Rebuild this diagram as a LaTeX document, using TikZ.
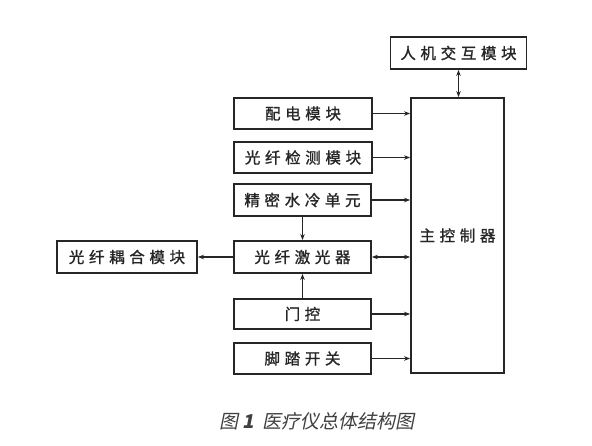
\documentclass[tikz,border=0pt]{standalone}
\usepackage{fontspec}
\setmainfont{Noto Sans CJK SC}
\newfontfamily\boxfont[LetterSpace=30,FakeBold=1.2]{Noto Sans CJK SC}
\newfontfamily\capfont[FakeSlant=0.2]{Noto Sans CJK SC}
\usetikzlibrary{arrows.meta}
\begin{document}
\begin{tikzpicture}[x=1pt,y=-1pt,
  blk/.style={draw=black!85, line width=1.8pt, rectangle, inner sep=0pt,
     font=\boxfont\fontsize{15.5}{15.5}\selectfont, text=black!85},
  arr/.style={draw=black!85, line width=1.3pt, -{Stealth[length=6pt,width=4.5pt]}},
  darr/.style={draw=black!85, line width=1.3pt, {Stealth[length=6pt,width=4.5pt]}-{Stealth[length=6pt,width=4.5pt]}}]
\useasboundingbox[fill=white] (0,0) rectangle (592,446);
\node[blk, minimum width=136pt, minimum height=32pt] (hmi) at (458.5,53) {人机交互模块};
\node[blk, minimum width=93pt, minimum height=275pt] (ctrl) at (457.5,235.5) {主控制器};
\node[blk, minimum width=138pt, minimum height=31pt] (pd) at (303,113.5) {配电模块};
\node[blk, minimum width=138pt, minimum height=31pt] (jc) at (303,157.5) {光纤检测模块};
\node[blk, minimum width=137pt, minimum height=32pt] (sl) at (302.5,200) {精密水冷单元};
\node[blk, minimum width=137pt, minimum height=32pt] (laser) at (302.5,257) {光纤激光器};
\node[blk, minimum width=140pt, minimum height=32pt] (ouhe) at (127,257) {光纤耦合模块};
\node[blk, minimum width=137pt, minimum height=30pt] (mk) at (302.5,314) {门控};
\node[blk, minimum width=137pt, minimum height=31pt] (jt) at (302.5,358.5) {脚踏开关};
\draw[darr] (hmi.south) -- (hmi.south |- ctrl.north);
\draw[arr] (pd.east) -- (pd.east -| ctrl.west);
\draw[arr] (jc.east) -- (jc.east -| ctrl.west);
\draw[arr, line width=2.6pt] (sl.east) -- (sl.east -| ctrl.west);
\draw[darr] (laser.east) -- (laser.east -| ctrl.west);
\draw[arr] (mk.east) -- (mk.east -| ctrl.west);
\draw[arr] (jt.east) -- (jt.east -| ctrl.west);
\draw[arr] (laser.west) -- (ouhe.east);
\draw[arr] (sl.south) -- (laser.north);
\draw[arr] (mk.north) -- (laser.south);
\node[font=\capfont\fontsize{19}{19}\selectfont, text=black!75] (cap) at (317,421) {图\,{\bfseries 1}\ \ 医疗仪总体结构图};
\end{tikzpicture}
\end{document}
